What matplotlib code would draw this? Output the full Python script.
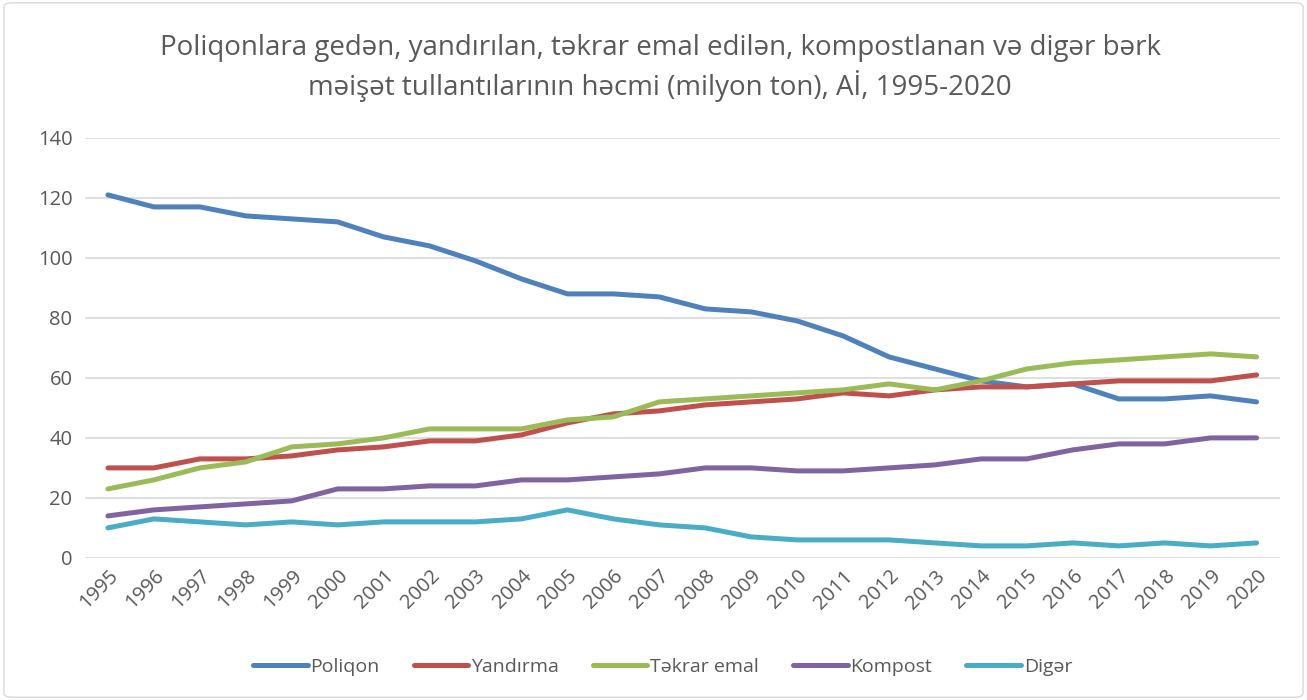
import matplotlib.pyplot as plt
from matplotlib.patches import FancyBboxPatch

years = list(range(1995, 2021))
poliqon = [121, 117, 117, 114, 113, 112, 107, 104, 99, 93, 88, 88, 87, 83, 82, 79, 74, 67, 63, 59, 57, 58, 53, 53, 54, 52]
yandirma = [30, 30, 33, 33, 34, 36, 37, 39, 39, 41, 45, 48, 49, 51, 52, 53, 55, 54, 56, 57, 57, 58, 59, 59, 59, 61]
tekrar = [23, 26, 30, 32, 37, 38, 40, 43, 43, 43, 46, 47, 52, 53, 54, 55, 56, 58, 56, 59, 63, 65, 66, 67, 68, 67]
kompost = [14, 16, 17, 18, 19, 23, 23, 24, 24, 26, 26, 27, 28, 30, 30, 29, 29, 30, 31, 33, 33, 36, 38, 38, 40, 40]
diger = [10, 13, 12, 11, 12, 11, 12, 12, 12, 13, 16, 13, 11, 10, 7, 6, 6, 6, 5, 4, 4, 5, 4, 5, 4, 5]

series = [("Poliqon", poliqon, "#4F81BD"),
          ("Yandırma", yandirma, "#C0504D"),
          ("Təkrar emal", tekrar, "#9BBB59"),
          ("Kompost", kompost, "#8064A2"),
          ("Digər", diger, "#4BACC6")]

plt.rcParams['font.family'] = ['Open Sans', 'DejaVu Sans']

fig = plt.figure(figsize=(13.07, 7.0), dpi=100)
ax = fig.add_axes([0.065, 0.203, 0.914, 0.6])

x = list(range(len(years)))
for name, vals, col in series:
    ax.plot(x, vals, color=col, lw=3.6, label=name, solid_capstyle='round', solid_joinstyle='round')

ax.set_xlim(-0.5, len(years) - 0.5)
ax.set_ylim(0, 140)
ax.set_yticks(range(0, 141, 20))
ax.set_xticks(x)
ax.set_xticklabels([str(y) for y in years], rotation=45, ha='right', rotation_mode='anchor')
ax.tick_params(axis='both', length=0, labelsize=14.5, colors='#595959', pad=9)
ax.tick_params(axis='x', pad=6)
ax.grid(axis='y', color='#D9D9D9', lw=1.2)
ax.set_axisbelow(True)
for s in ax.spines.values():
    s.set_visible(False)

fig.text(0.505, 0.903, "Poliqonlara gedən, yandırılan, təkrar emal edilən, kompostlanan və digər bərk\n"
         "məişət tullantılarının həcmi (milyon ton), Aİ, 1995-2020",
         ha='center', va='center', fontsize=20, color='#595959', linespacing=1.35)

fig.legend(loc='center', bbox_to_anchor=(0.507, 0.047), ncol=5, frameon=False,
           fontsize=14, handlelength=2.8, columnspacing=1.75, handletextpad=0.15,
           labelcolor='#595959')

fig.patches.append(FancyBboxPatch((0.003, 0.004), 0.994, 0.992, boxstyle='round,pad=0,rounding_size=0.006',
                                  transform=fig.transFigure, fill=False, ec='#D9D9D9', lw=1))

fig.savefig('out.png', dpi=100)
